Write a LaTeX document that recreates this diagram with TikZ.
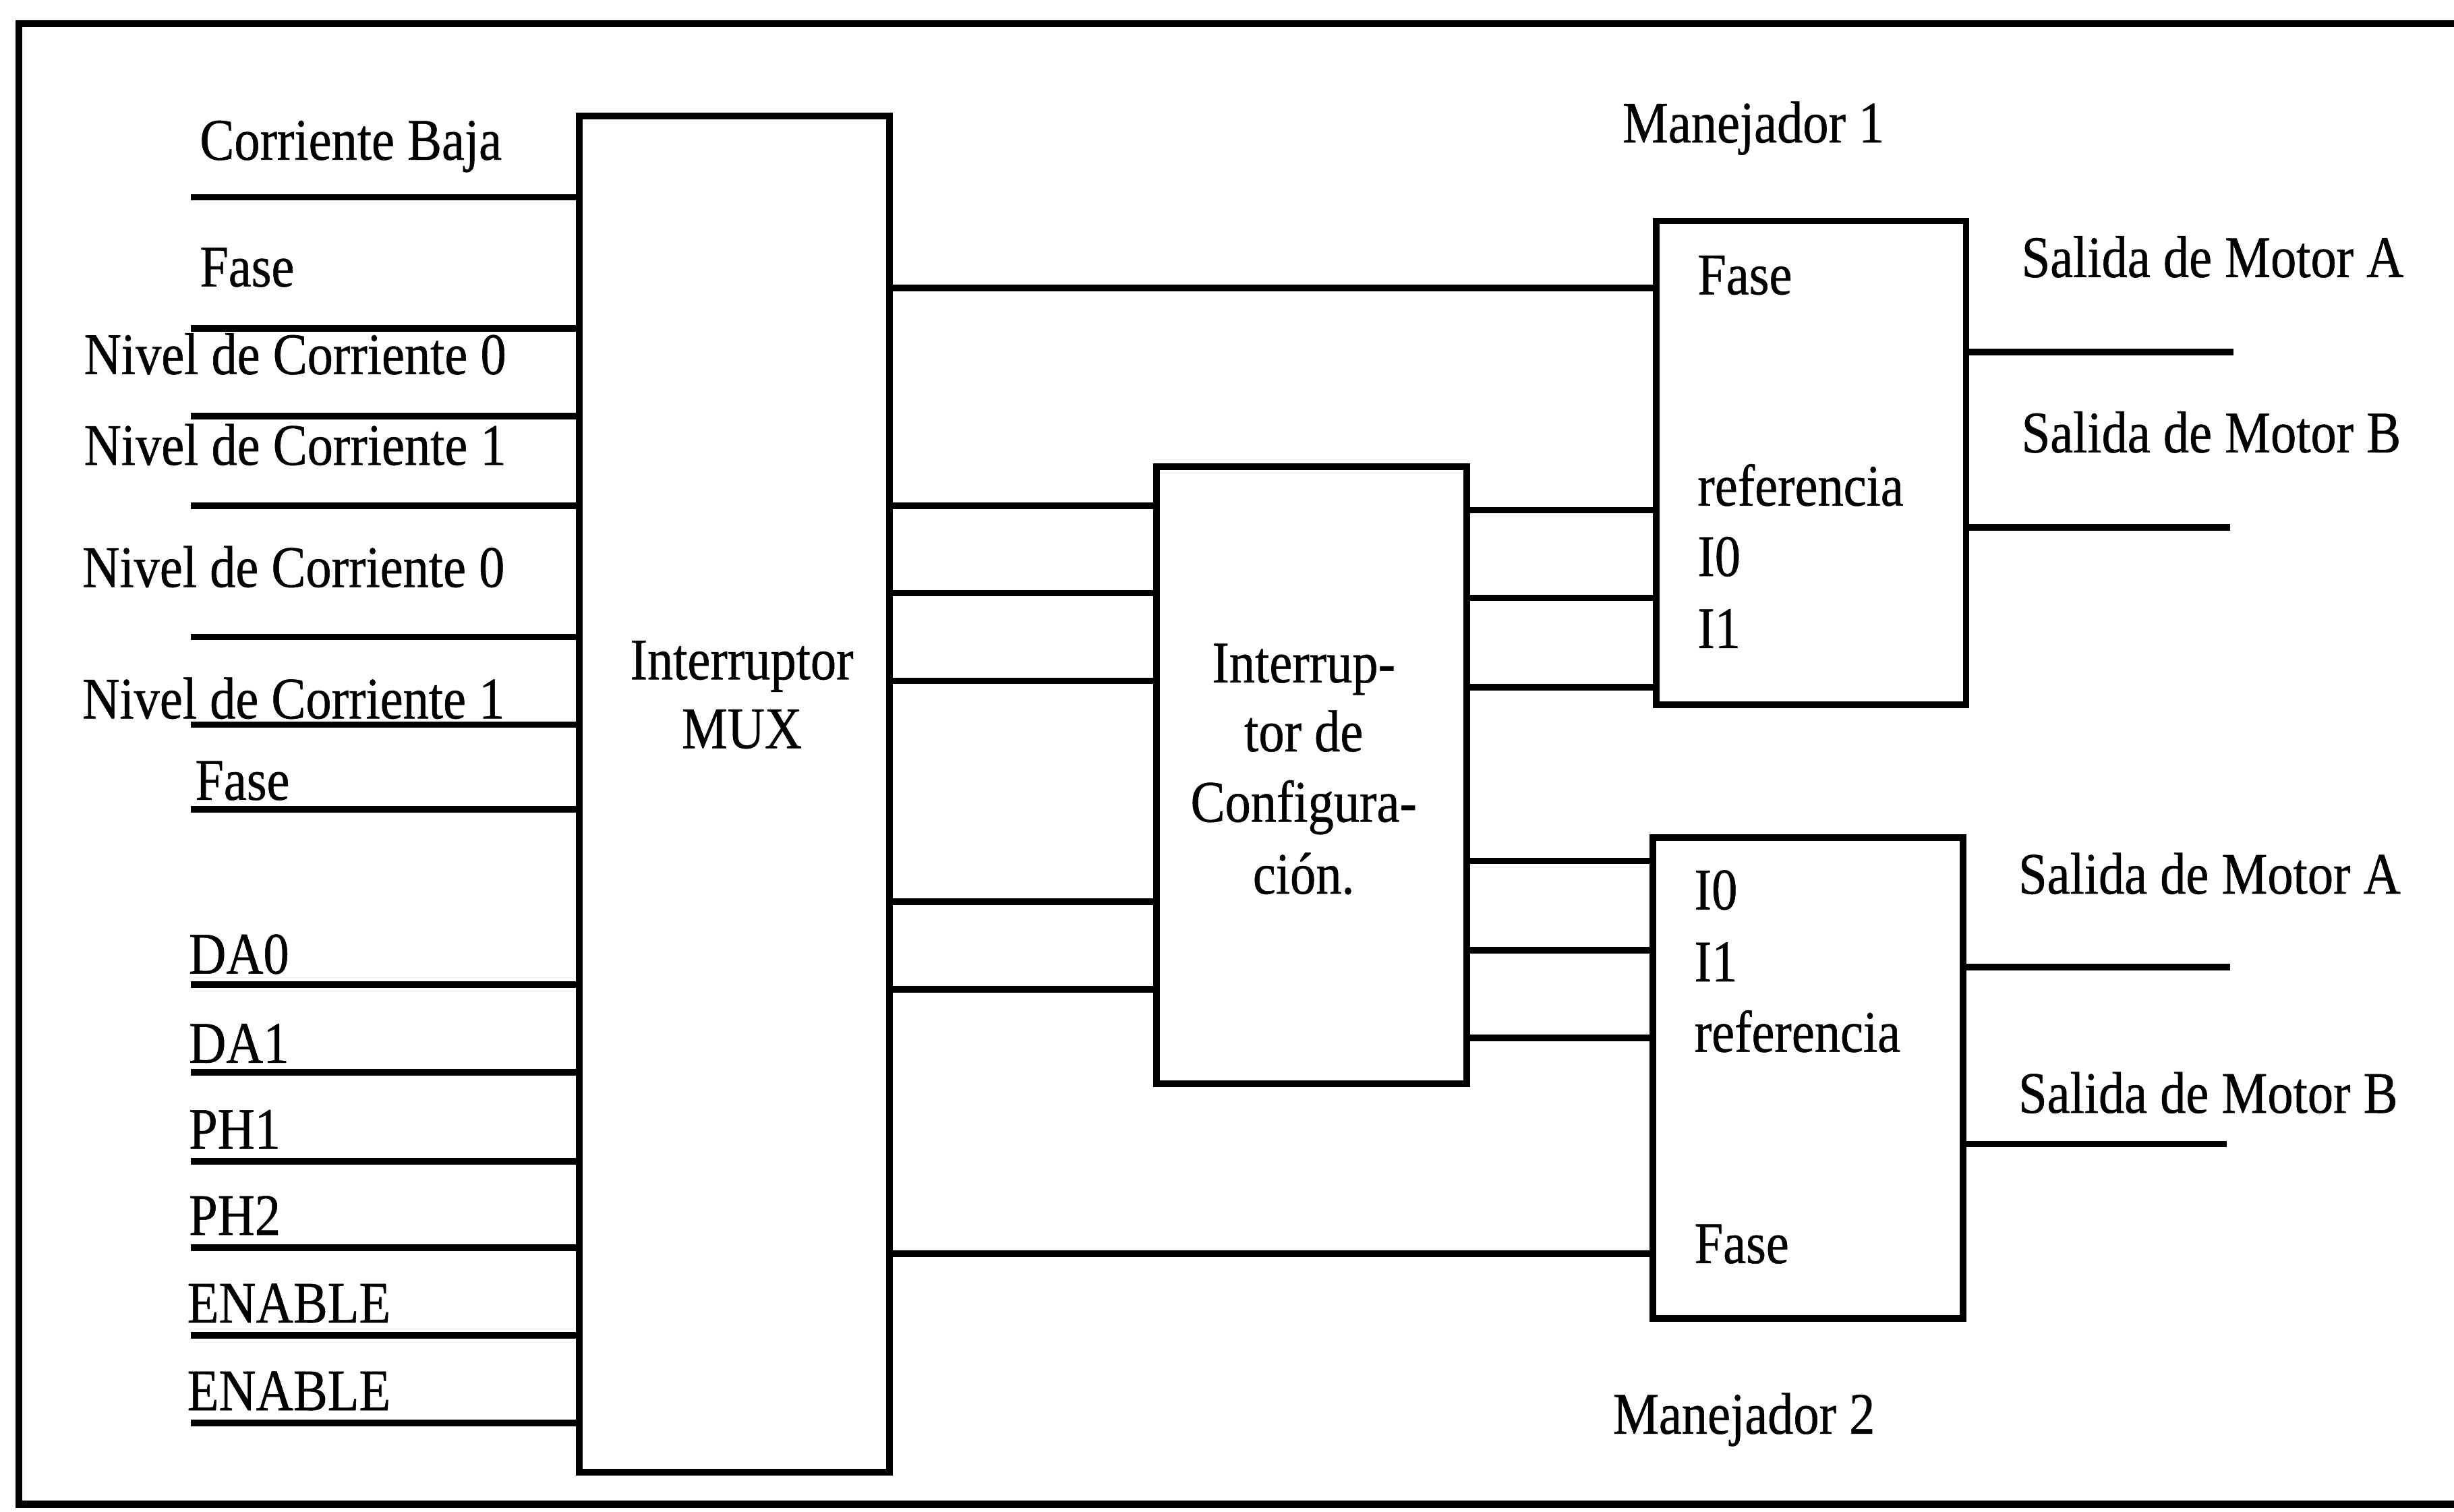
\documentclass[tikz,border=0pt]{standalone}
\usepackage{fontspec}
\setmainfont{Liberation Serif}[FakeStretch=0.875, FakeBold=0.6]

\tikzset{
    cable/.style={line width=1.2pt},
    caja/.style={draw, line width=1.2pt, anchor=north west, inner sep=0pt, minimum width=1.98cm},
    etiq/.style={anchor=base west, inner sep=0pt},
    centro/.style={anchor=base, inner sep=0pt}
}

\begin{document}
\begin{tikzpicture}[x=0.01cm, y=-0.01cm, font=\fontsize{10.7}{12.5}\selectfont]
    \useasboundingbox (0,0) rectangle (1568,966);

    % Marco exterior (el borde derecho queda fuera)
    \draw[line width=1.3pt] (1568,15) -- (12,15) -- (12,961) -- (1568,961);

    % Bloques
    \node[caja, minimum height=8.66cm] (mux) at (368,72) {};
    \node[caja, minimum height=3.94cm] (cfg) at (737,296) {};
    \node[caja, minimum height=3.09cm] (man1) at (1056,139) {};
    \node[caja, minimum height=3.07cm] (man2) at (1054,533) {};

    % Textos de los bloques
    \node[centro] (tmux1) at (474,434) {Interruptor};
    \node[centro] (tmux2) at (474,478) {MUX};
    \foreach \t/\y [count=\i] in {Interrup-/436, tor de/480, Configura-/525, ci\'on./571} {
        \node[centro] (tcfg\i) at (833,\y) {\t};
    }
    \foreach \t/\y [count=\i] in {Fase/188, referencia/323, I0/368, I1/414} {
        \node[etiq] (tma\i) at (1084,\y) {\t};
    }
    \foreach \t/\y [count=\i] in {I0/581, I1/627, referencia/672, Fase/807} {
        \node[etiq] (tmb\i) at (1082,\y) {\t};
    }
    \node[etiq] (nman1) at (1036,91) {Manejador 1};
    \node[etiq] (nman2) at (1030,916) {Manejador 2};

    % Entradas del MUX
    \foreach \y [count=\i] in {126,210,266,323,407,463,517,629,685,742,797,853,909} {
        \coordinate (ent\i) at (122,\y);
        \draw[cable] (ent\i) -- (mux.west |- ent\i);
    }
    \foreach \t/\x/\y [count=\i] in {Corriente Baja/127/102, Fase/127/183,
        Nivel de Corriente 0/53/239, Nivel de Corriente 1/53/297,
        Nivel de Corriente 0/52/375, Nivel de Corriente 1/52/459,
        Fase/124/511, DA0/120/622, DA1/120/679, PH1/120/734,
        PH2/120/789, ENABLE/119/845, ENABLE/119/901} {
        \node[etiq] (ten\i) at (\x,\y) {\t};
    }

    % MUX hacia los manejadores (Fase)
    \coordinate (fa1) at (0,184);
    \coordinate (fa2) at (0,801);
    \draw[cable] (mux.east |- fa1) -- (man1.west |- fa1);
    \draw[cable] (mux.east |- fa2) -- (man2.west |- fa2);

    % MUX hacia el interruptor de configuracion
    \foreach \y [count=\i] in {323,379,435,576,632} {
        \coordinate (mc\i) at (0,\y);
        \draw[cable] (mux.east |- mc\i) -- (cfg.west |- mc\i);
    }

    % Configuracion hacia los manejadores
    \foreach \y [count=\i] in {326,382,439} {
        \coordinate (ca\i) at (0,\y);
        \draw[cable] (cfg.east |- ca\i) -- (man1.west |- ca\i);
    }
    \foreach \y [count=\i] in {550,607,663} {
        \coordinate (cb\i) at (0,\y);
        \draw[cable] (cfg.east |- cb\i) -- (man2.west |- cb\i);
    }

    % Salidas de motor
    \coordinate (sa1) at (1427,225);
    \coordinate (sb1) at (1425,337);
    \coordinate (sa2) at (1425,618);
    \coordinate (sb2) at (1423,731);
    \draw[cable] (man1.east |- sa1) -- (sa1);
    \draw[cable] (man1.east |- sb1) -- (sb1);
    \draw[cable] (man2.east |- sa2) -- (sa2);
    \draw[cable] (man2.east |- sb2) -- (sb2);
    \node[etiq] (lsa1) at (1291,177) {Salida de Motor A};
    \node[etiq] (lsb1) at (1291,289) {Salida de Motor B};
    \node[etiq] (lsa2) at (1289,571) {Salida de Motor A};
    \node[etiq] (lsb2) at (1289,711) {Salida de Motor B};

\end{tikzpicture}
\end{document}
